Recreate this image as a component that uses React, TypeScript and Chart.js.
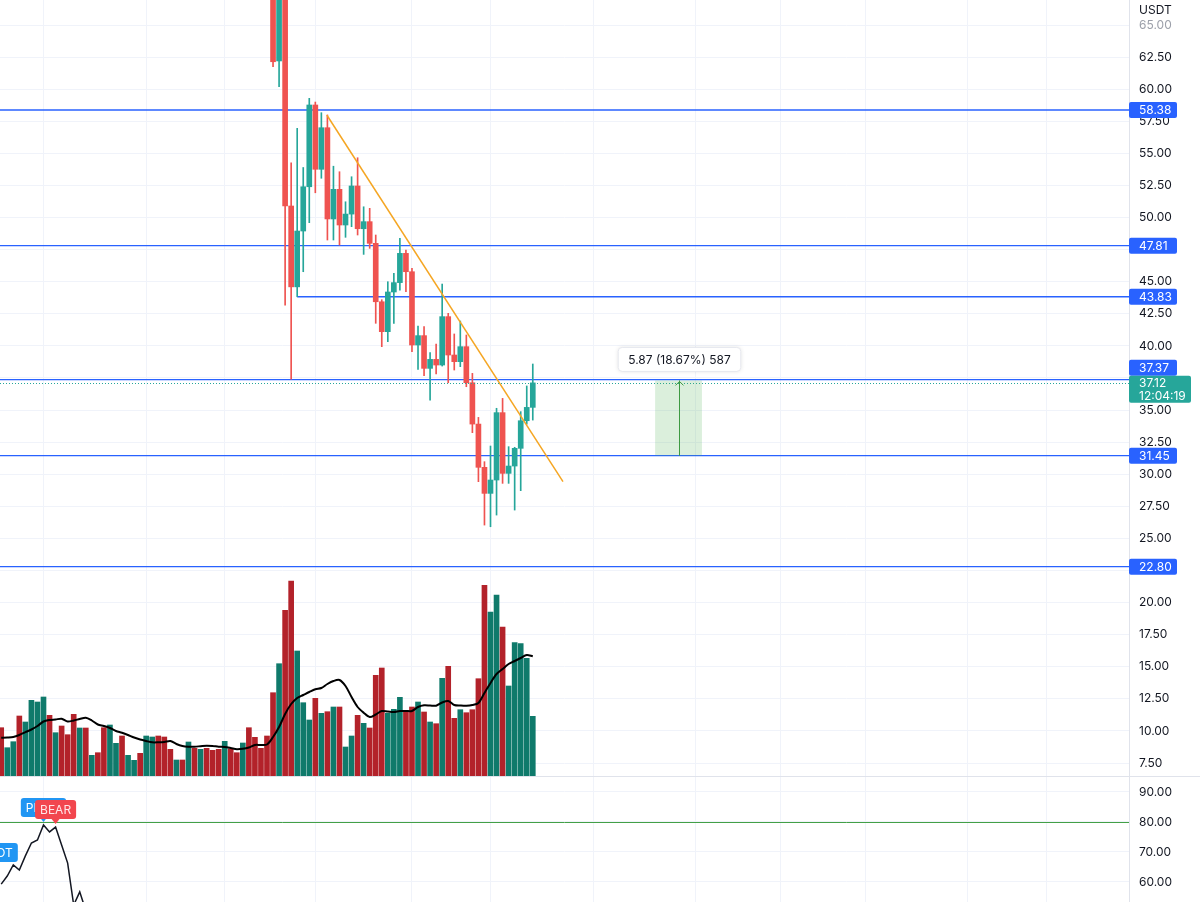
import React, { useEffect, useRef } from 'react';
import { Chart, registerables } from 'chart.js';

Chart.register(...registerables);

// ---------- data ----------
const opens = [
  80.4, 79.6, 81.2, 83.0, 82.1, 84.5, 87.3, 89.0, 92.6, 90.8,
  92.1, 88.9, 86.4, 82.0, 83.1, 80.5, 81.0, 79.8, 77.2, 78.6,
  79.3, 77.5, 78.0, 78.4, 77.1, 78.2, 78.9, 77.6, 76.3, 75.7,
  76.1, 75.2, 76.0, 75.1, 75.6, 74.8, 74.2, 73.5, 74.4, 73.6,
  73.0, 73.9, 72.6, 71.9, 71.5,
  70.6, 62.2, 69.4, 50.9, 44.6, 48.95, 52.4, 58.77, 53.76, 57.0,
  49.89, 52.2, 49.42, 50.27, 52.46, 49.13, 49.68, 47.99, 43.44, 41.11,
  44.2, 44.93, 47.21, 45.78, 40.07, 40.8, 38.25, 38.95, 38.51, 42.28,
  39.29, 38.77, 39.94, 37.13, 33.91, 30.54, 28.51, 29.55, 34.8, 30.07,
  30.64, 32.02, 34.17, 35.21,
];
const highs = [
  81.1, 81.9, 83.6, 83.8, 85.0, 88.0, 89.7, 93.4, 93.5, 92.9,
  92.8, 89.5, 87.0, 83.9, 83.7, 81.8, 81.6, 80.3, 79.1, 80.0,
  79.9, 78.6, 79.0, 79.1, 78.7, 79.5, 79.4, 78.1, 76.9, 76.8,
  76.7, 76.6, 76.5, 76.1, 76.2, 75.3, 74.8, 75.0, 74.9, 74.1,
  74.5, 74.3, 73.1, 72.4, 72.0,
  71.0, 70.2, 69.9, 54.27, 56.95, 53.9, 59.29, 59.0, 58.17, 57.99,
  54.0, 53.57, 51.23, 53.18, 54.66, 50.84, 50.72, 48.64, 43.6, 45.0,
  45.65, 48.38, 47.47, 46.04, 41.55, 41.5, 39.47, 40.15, 44.82, 42.54,
  40.93, 41.94, 40.85, 37.86, 34.43, 30.98, 32.2, 35.14, 35.91, 32.15,
  32.1, 34.88, 36.88, 38.59,
];
const lows = [
  78.9, 79.0, 80.7, 81.4, 81.6, 84.0, 86.6, 88.5, 90.1, 90.2,
  88.2, 85.7, 81.3, 81.5, 79.9, 79.8, 79.2, 76.5, 76.7, 78.0,
  77.0, 76.9, 77.4, 76.5, 76.6, 77.6, 77.0, 75.8, 75.1, 75.1,
  74.7, 74.7, 74.6, 74.6, 74.2, 73.6, 72.9, 73.0, 73.0, 72.4,
  72.5, 72.0, 71.3, 70.9, 70.1,
  61.75, 60.2, 43.18, 37.4, 43.83, 45.78, 49.6, 51.93, 53.06, 48.25,
  48.25, 47.86, 48.46, 49.29, 48.64, 47.13, 47.6, 41.76, 39.94, 40.33,
  41.76, 44.35, 44.22, 39.55, 38.17, 37.68, 35.78, 37.81, 38.43, 37.13,
  38.12, 38.38, 36.82, 33.24, 29.42, 26.04, 25.91, 26.82, 29.29, 29.29,
  27.21, 28.72, 33.9, 34.22,
];
const closes = [
  79.6, 81.2, 83.0, 82.1, 84.5, 87.3, 89.0, 92.6, 90.8, 92.1,
  88.9, 86.4, 82.0, 83.1, 80.5, 81.0, 79.8, 77.2, 78.6, 79.3,
  77.5, 78.0, 78.4, 77.1, 78.2, 78.9, 77.6, 76.3, 75.7, 76.1,
  75.2, 76.0, 75.1, 75.6, 74.8, 74.2, 73.5, 74.4, 73.6, 73.0,
  73.9, 72.6, 71.9, 71.5, 70.6,
  62.14, 69.4, 50.9, 44.6, 48.95, 52.4, 58.77, 53.76, 57.0, 49.89,
  52.2, 49.42, 50.27, 52.46, 49.13, 49.68, 47.99, 43.44, 41.11, 44.2,
  44.93, 47.21, 45.78, 40.07, 40.8, 38.25, 38.95, 38.51, 42.28, 39.29,
  38.77, 39.94, 37.13, 33.91, 30.54, 28.51, 29.55, 34.8, 30.07, 30.64,
  32.02, 34.17, 35.21, 37.12,
];
// volume (millions)
const volumes = [
  4.83, 2.83, 3.43, 6.0, 5.4, 7.57, 7.4, 7.9, 6.07, 4.33,
  5.0, 4.13, 6.17, 4.8, 4.8, 2.07, 2.33, 4.83, 5.1, 3.27,
  4.0, 2.07, 1.57, 2.27, 4.0, 3.9, 4.0, 3.9, 2.67, 1.6,
  1.6, 3.4, 2.77, 2.67, 2.77, 2.57, 2.67, 3.47, 2.73, 2.33,
  3.3, 4.83, 3.87, 2.77, 4.0,
  8.33, 11.23, 16.57, 19.5, 12.5, 7.33, 5.6, 7.77, 6.27, 6.43,
  6.9, 6.9, 2.9, 4.0, 6.07, 5.27, 4.8, 10.07, 10.8, 6.27,
  6.67, 7.87, 6.5, 6.9, 7.4, 6.4, 5.4, 5.23, 9.77, 10.97,
  5.77, 6.63, 6.33, 6.63, 9.73, 19.07, 16.4, 18.1, 14.9, 9.0,
  13.33, 13.23, 11.77, 5.97,
];
const volumeMA = [
  3.83, 3.85, 3.9, 4.1, 4.38, 4.65, 5.0, 5.45, 5.6, 5.65,
  5.73, 5.45, 5.55, 5.7, 5.83, 5.55, 5.15, 5.0, 4.8, 4.5,
  4.33, 4.1, 3.85, 3.65, 3.5, 3.37, 3.37, 3.4, 3.5, 3.2,
  3.0, 2.93, 2.93, 2.98, 3.03, 3.0, 2.93, 2.9, 2.8, 2.68,
  2.72, 2.85, 3.1, 3.1, 3.15,
  3.9, 4.9, 6.2, 7.2, 7.8, 8.1, 8.4, 8.67, 8.8, 9.2,
  9.5, 9.6, 9.0, 7.9, 6.9, 6.33, 5.9, 6.15, 6.5, 6.45,
  6.4, 6.5, 6.5, 6.5, 6.9, 7.07, 7.05, 7.03, 7.35, 7.5,
  7.1, 7.05, 7.03, 7.1, 7.3, 8.3, 9.3, 10.2, 10.7, 11.2,
  11.5, 11.8, 12.1, 11.97,
];
const rsi = [
  59.3, 62, 65.7, 64, 68.7, 73, 74, 79, 76.7, 78.3,
  72.3, 66.3, 52.3, 56.7,
  50.5, 51.8, 48.9, 44.6, 47.2, 48.5, 45.1, 46.3, 47.0, 44.5,
  46.8, 48.0, 45.3, 42.9, 41.8, 42.7, 41.0, 42.9, 41.2, 42.4,
  40.8, 39.6, 38.3, 40.9, 39.2, 37.9, 40.1, 37.4, 35.9, 35.0, 33.1,
  22.5, 38.0, 27.5, 24.4, 31.9, 37.5, 45.2, 40.5, 44.6, 37.1,
  40.8, 37.8, 38.5, 40.4, 37.2, 38.0, 36.5, 32.1, 30.8, 34.2,
  35.9, 38.8, 37.2, 33.1, 34.8, 32.6, 31.2, 31.6, 36.9, 34.2,
  33.9, 35.5, 33.0, 30.4, 27.9, 26.8, 29.6, 36.0, 31.2, 32.0,
  34.3, 36.5, 37.7, 40.7,
];

const levels = [58.38, 47.81, 43.83, 37.37, 31.45, 22.8];
const levelStartIdx = [null, null, 49, null, null, null];
const priceTicks = [65, 62.5, 60, 57.5, 55, 52.5, 50, 47.5, 45, 42.5, 40, 37.5, 35, 32.5, 30, 27.5, 25, 22.5, 20, 17.5, 15, 12.5, 10, 7.5];
const rsiTicks = [90, 80, 70, 60];
const rsiLevel = 80;
const gridIndex = [7, 24, 37, 52, 68, 81, 98, 115, 129, 143, 160, 173];
const trendIdx = [53.9, 93.0];
const trendPrice = [57.99, 29.42];
const measureIdx = [108.25, 116.0];
const measurePrice = [31.44, 37.31];
const rsiLabelIdx = [-1, 7, 9];
const rsiLabelVal = [64, 79, 78.3];
const rsiLabelText = ['PIVOT', 'PIVOT', 'BEAR'];
const rsiLabelKind = ['bull', 'bull', 'bear'];
const quoteCurrency = 'USDT';
const countdown = '12:04:19';

// ---------- style ----------
const UP = '#26a69a';
const DOWN = '#ef5350';
const VOL_UP = '#0f7a6b';
const VOL_DOWN = '#b3222a';
const LEVEL = '#2962ff';
const GRID = '#f0f3fa';
const AXIS_BORDER = '#e0e3eb';
const TEXT = '#131722';
const FONT = 'Inter, "Noto Sans", sans-serif';
const AXIS_W = 71;
const X_MIN = -0.2;
const X_MAX = 186.7;
const PRICE_MIN = 6.49;
const PRICE_MAX = 66.95;
const VOL_MAX = 77.6;
const RSI_MIN = 53.33;
const RSI_MAX = 95;

const xScale = () => ({
  type: 'linear',
  min: X_MIN,
  max: X_MAX,
  offset: false,
  ticks: { display: false },
  grid: { color: GRID, drawTicks: false, lineWidth: 1, offset: false },
  border: { display: false },
  afterBuildTicks: (s: any) => {
    s.ticks = gridIndex.map((v) => ({ value: v }));
  },
  afterFit: (s: any) => {
    s.height = 0;
    s.paddingLeft = 0;
    s.paddingRight = 0;
  },
});

const fitY = (s: any) => {
  s.width = AXIS_W;
  s.paddingTop = 0;
  s.paddingBottom = 0;
};

function rr(ctx: any, x: number, y: number, w: number, h: number, r: number) {
  ctx.beginPath();
  if (ctx.roundRect) ctx.roundRect(x, y, w, h, r);
  else ctx.rect(x, y, w, h);
}

export default function App() {
  const priceRef = useRef<HTMLCanvasElement>(null);
  const rsiRef = useRef<HTMLCanvasElement>(null);

  useEffect(() => {
    document.body.style.margin = '0';
    Chart.defaults.font.family = FONT;
    const idx = closes.map((_, i) => i);
    const isUp = idx.map((i) => closes[i] >= opens[i]);
    const lastClose = closes[closes.length - 1];

    const priceOverlay = {
      id: 'priceOverlay',
      beforeDatasetsDraw(chart: any) {
        const { ctx, chartArea, scales } = chart;
        const x = scales.x;
        const y = scales.y;
        ctx.save();
        ctx.beginPath();
        ctx.rect(chartArea.left, chartArea.top, chartArea.width, chartArea.height);
        ctx.clip();
        ctx.strokeStyle = LEVEL;
        ctx.lineWidth = 1.3;
        levels.forEach((lv, k) => {
          const py = y.getPixelForValue(lv);
          const s = levelStartIdx[k];
          const sx = s == null ? chartArea.left : x.getPixelForValue(s);
          ctx.beginPath();
          ctx.moveTo(sx, py);
          ctx.lineTo(chartArea.right, py);
          ctx.stroke();
        });
        ctx.restore();
      },
      afterDatasetsDraw(chart: any) {
        const { ctx, chartArea, scales } = chart;
        const x = scales.x;
        const y = scales.y;
        ctx.save();
        const cy = Math.round(y.getPixelForValue(lastClose)) + 0.5;
        ctx.strokeStyle = UP;
        ctx.lineWidth = 1;
        ctx.setLineDash([1, 2]);
        ctx.beginPath();
        ctx.moveTo(chartArea.left, cy);
        ctx.lineTo(chartArea.right, cy);
        ctx.stroke();
        ctx.setLineDash([]);
        const x0 = x.getPixelForValue(measureIdx[0]);
        const x1 = x.getPixelForValue(measureIdx[1]);
        const yTop = y.getPixelForValue(measurePrice[1]);
        const yBot = y.getPixelForValue(measurePrice[0]);
        ctx.fillStyle = 'rgba(76,175,80,0.2)';
        ctx.fillRect(x0, yTop, x1 - x0, yBot - yTop);
        const mx = Math.round((x0 + x1) / 2) + 0.5;
        ctx.strokeStyle = '#3d9a42';
        ctx.lineWidth = 1;
        ctx.beginPath();
        ctx.moveTo(mx, yBot);
        ctx.lineTo(mx, yTop);
        ctx.moveTo(mx - 4, yTop + 5);
        ctx.lineTo(mx, yTop + 1);
        ctx.lineTo(mx + 4, yTop + 5);
        ctx.stroke();
        const d = measurePrice[1] - measurePrice[0];
        const label = `${d.toFixed(2)} (${((d / measurePrice[0]) * 100).toFixed(2)}%) ${Math.round(d * 100)}`;
        ctx.font = `12px ${FONT}`;
        const tw = ctx.measureText(label).width;
        const bw = tw + 20;
        const bh = 24;
        const by = yTop - 9 - bh;
        ctx.shadowColor = 'rgba(0,0,0,0.12)';
        ctx.shadowBlur = 4;
        ctx.fillStyle = '#ffffff';
        rr(ctx, mx - bw / 2, by, bw, bh, 4);
        ctx.fill();
        ctx.shadowBlur = 0;
        ctx.shadowColor = 'transparent';
        ctx.strokeStyle = '#e6e8ee';
        ctx.stroke();
        ctx.fillStyle = TEXT;
        ctx.textAlign = 'center';
        ctx.textBaseline = 'middle';
        ctx.fillText(label, mx, by + bh / 2 + 0.5);
        ctx.restore();
      },
      afterDraw(chart: any) {
        const { ctx, chartArea, scales } = chart;
        const y = scales.y;
        const ax = chartArea.right;
        ctx.save();
        ctx.font = `12px ${FONT}`;
        ctx.textAlign = 'left';
        ctx.textBaseline = 'middle';
        ctx.fillStyle = TEXT;
        ctx.fillText(quoteCurrency, ax + 10, 10);
        const cy = y.getPixelForValue(lastClose);
        const curTop = cy - 7;
        const curBot = cy + 20;
        levels.forEach((lv) => {
          let ly = y.getPixelForValue(lv);
          if (ly + 8 > curTop && ly - 8 < curBot) ly = curTop - 8;
          ctx.fillStyle = LEVEL;
          rr(ctx, ax, ly - 8, 48, 16, 2);
          ctx.fill();
          ctx.fillStyle = '#ffffff';
          ctx.fillText(lv.toFixed(2), ax + 10, ly + 0.5);
        });
        ctx.fillStyle = UP;
        rr(ctx, ax, curTop, 62, 27, 2);
        ctx.fill();
        ctx.fillStyle = '#ffffff';
        ctx.fillText(lastClose.toFixed(2), ax + 10, cy + 0.5);
        ctx.fillText(countdown, ax + 10, cy + 14);
        ctx.restore();
      },
    };

    const priceChart = new Chart(priceRef.current as HTMLCanvasElement, {
      type: 'bar',
      data: {
        datasets: [
          {
            type: 'line',
            label: 'trend',
            data: trendIdx.map((v, i) => ({ x: v, y: trendPrice[i] })),
            borderColor: '#f5a623',
            borderWidth: 1.5,
            pointRadius: 0,
            yAxisID: 'y',
            order: 0,
          },
          {
            type: 'bar',
            label: 'body',
            data: idx.map((i) => ({ x: i, y: [opens[i], closes[i]] })),
            backgroundColor: idx.map((i) => (isUp[i] ? UP : DOWN)),
            barThickness: 5,
            grouped: false,
            yAxisID: 'y',
            order: 1,
          },
          {
            type: 'bar',
            label: 'wick',
            data: idx.map((i) => ({ x: i, y: [lows[i], highs[i]] })),
            backgroundColor: idx.map((i) => (isUp[i] ? UP : DOWN)),
            barThickness: 1,
            grouped: false,
            yAxisID: 'y',
            order: 2,
          },
          {
            type: 'line',
            label: 'volMA',
            data: idx.map((i) => ({ x: i, y: volumeMA[i] })),
            borderColor: '#000000',
            borderWidth: 2,
            pointRadius: 0,
            tension: 0.3,
            yAxisID: 'vol',
            order: 3,
          },
          {
            type: 'bar',
            label: 'volume',
            data: idx.map((i) => ({ x: i, y: volumes[i] })),
            backgroundColor: idx.map((i) => (isUp[i] ? VOL_UP : VOL_DOWN)),
            barThickness: 5,
            grouped: false,
            yAxisID: 'vol',
            order: 4,
          },
        ],
      } as any,
      options: {
        animation: false,
        responsive: false,
        devicePixelRatio: 1,
        events: [],
        layout: { padding: 0 },
        plugins: { legend: { display: false }, tooltip: { enabled: false } },
        scales: {
          x: xScale(),
          y: {
            type: 'linear',
            position: 'right',
            min: PRICE_MIN,
            max: PRICE_MAX,
            afterBuildTicks: (s: any) => {
              s.ticks = priceTicks.map((v) => ({ value: v }));
            },
            afterFit: fitY,
            grid: { color: GRID, drawTicks: false },
            border: { display: true, color: AXIS_BORDER },
            ticks: {
              padding: 10,
              autoSkip: false,
              font: { size: 12, family: FONT },
              color: (c: any) => (c.tick && c.tick.value === 65 ? '#9ca0aa' : TEXT),
              callback: (v: any) => {
                const n = Number(v);
                if (levels.some((l) => Math.abs(l - n) < 0.86) || Math.abs(n - lastClose) < 0.86) return '';
                return n.toFixed(2);
              },
            },
          },
          vol: {
            type: 'linear',
            display: false,
            min: 0,
            max: VOL_MAX,
          },
        },
      } as any,
      plugins: [priceOverlay],
    });

    const rsiOverlay = {
      id: 'rsiOverlay',
      beforeDatasetsDraw(chart: any) {
        const { ctx, chartArea, scales } = chart;
        const py = Math.round(scales.y.getPixelForValue(rsiLevel)) + 0.5;
        ctx.save();
        ctx.strokeStyle = '#43a047';
        ctx.lineWidth = 1;
        ctx.beginPath();
        ctx.moveTo(chartArea.left, py);
        ctx.lineTo(chartArea.right, py);
        ctx.stroke();
        ctx.restore();
      },
      afterDatasetsDraw(chart: any) {
        const { ctx, chartArea, scales } = chart;
        ctx.save();
        ctx.beginPath();
        ctx.rect(chartArea.left, chartArea.top, chartArea.width, chartArea.height);
        ctx.clip();
        ctx.font = `12px ${FONT}`;
        ctx.textAlign = 'center';
        ctx.textBaseline = 'middle';
        rsiLabelIdx.forEach((li, k) => {
          const px = scales.x.getPixelForValue(li);
          const py = scales.y.getPixelForValue(rsiLabelVal[k]);
          const text = rsiLabelText[k];
          const w = ctx.measureText(text).width + 10;
          const h = 19;
          const bottom = py - 8;
          const top = bottom - h;
          ctx.fillStyle = rsiLabelKind[k] === 'bear' ? '#f2464e' : '#2196f3';
          rr(ctx, px - w / 2, top, w, h, 3);
          ctx.fill();
          ctx.beginPath();
          ctx.moveTo(px - 4, bottom);
          ctx.lineTo(px + 4, bottom);
          ctx.lineTo(px, bottom + 5);
          ctx.closePath();
          ctx.fill();
          ctx.fillStyle = rsiLabelKind[k] === 'bear' ? '#ffe6e8' : '#ffffff';
          ctx.fillText(text, px, top + h / 2 + 0.5);
        });
        ctx.restore();
      },
    };

    const rsiChart = new Chart(rsiRef.current as HTMLCanvasElement, {
      type: 'line',
      data: {
        datasets: [
          {
            label: 'RSI',
            data: idx.map((i) => ({ x: i, y: rsi[i] })),
            borderColor: '#131722',
            borderWidth: 1.5,
            pointRadius: 0,
            tension: 0,
          },
        ],
      } as any,
      options: {
        animation: false,
        responsive: false,
        devicePixelRatio: 1,
        events: [],
        layout: { padding: 0 },
        plugins: { legend: { display: false }, tooltip: { enabled: false } },
        scales: {
          x: xScale(),
          y: {
            type: 'linear',
            position: 'right',
            min: RSI_MIN,
            max: RSI_MAX,
            afterBuildTicks: (s: any) => {
              s.ticks = rsiTicks.map((v) => ({ value: v }));
            },
            afterFit: fitY,
            grid: { color: GRID, drawTicks: false },
            border: { display: true, color: AXIS_BORDER },
            ticks: {
              padding: 10,
              autoSkip: false,
              font: { size: 12, family: FONT },
              color: TEXT,
              callback: (v: any) => Number(v).toFixed(2),
            },
          },
        },
      } as any,
      plugins: [rsiOverlay],
    });

    return () => {
      priceChart.destroy();
      rsiChart.destroy();
    };
  }, []);

  return (
    <div style={{ position: 'relative', width: 1200, height: 902, overflow: 'hidden', background: '#ffffff' }}>
      <canvas ref={priceRef} width={1200} height={776} style={{ position: 'absolute', left: 0, top: 0 }} />
      <div style={{ position: 'absolute', left: 0, top: 776, width: 1200, height: 1, background: AXIS_BORDER }} />
      <canvas ref={rsiRef} width={1200} height={125} style={{ position: 'absolute', left: 0, top: 777 }} />
    </div>
  );
}
